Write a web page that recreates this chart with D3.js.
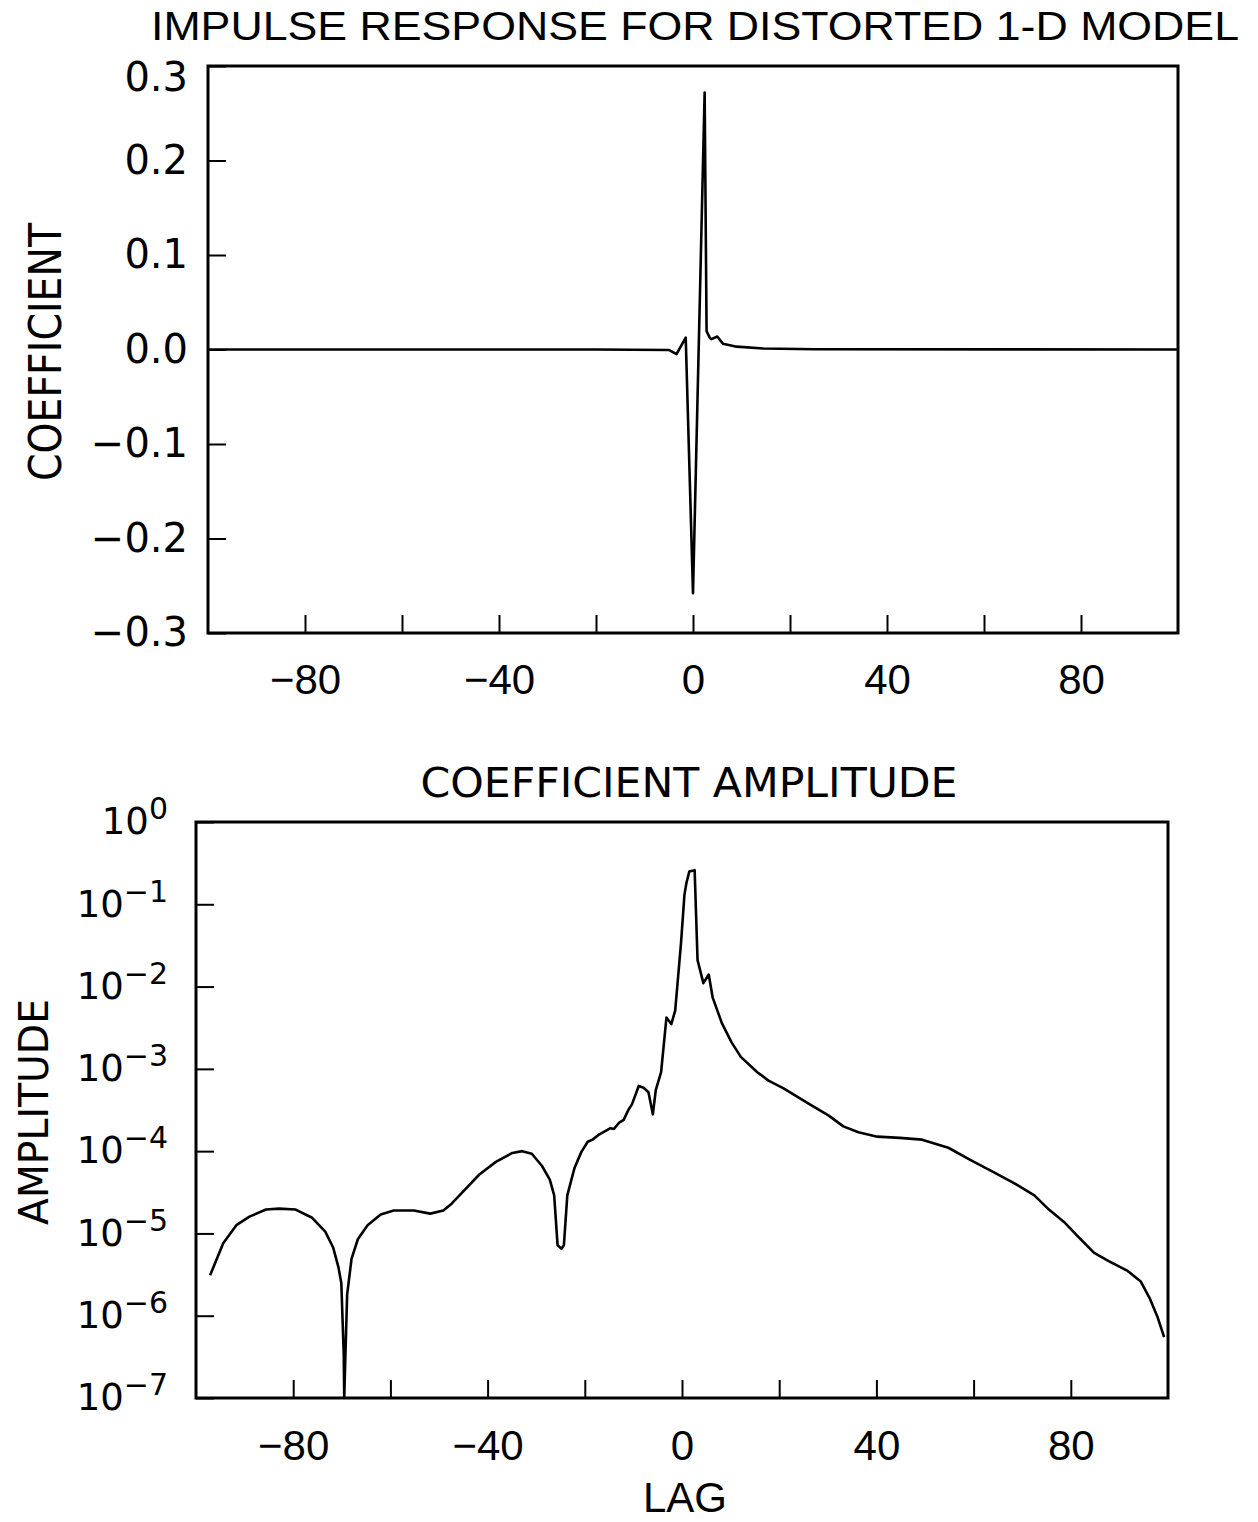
<!DOCTYPE html>
<html>
<head>
<meta charset="utf-8">
<script src="https://cdn.jsdelivr.net/npm/d3@7"></script>
<style>
  body { margin: 0; background: #fff; }
  svg { display: block; }
  .frame { fill: none; stroke: #000; stroke-width: 3; }
  .curve { fill: none; stroke: #000; stroke-width: 2.6; stroke-linejoin: round; }
  .ticks line { stroke: #000; stroke-width: 2; }
  .round { font-family: "DejaVu Sans", sans-serif; fill: #000; }
  .plain { font-family: "Liberation Sans", Arial, sans-serif; fill: #000; }
</style>
</head>
<body>
<div id="chart"></div>
<script>
// ---- data ----
// top panel: impulse response coefficients
const lagTop  = [-100, -20, -5, -3.4, -1.5, 0, 2.4, 2.8, 3.5, 3.8, 5.0, 6.2, 9, 14.5, 25, 100];
const coefTop = [0, 0, -0.0005, -0.005, 0.0125, -0.258, 0.272, 0.0195, 0.012, 0.011, 0.0137, 0.006, 0.003, 0.001, 0.0003, 0];

// bottom panel: coefficient amplitude (log scale)
const lagAmp = [
  -97.1, -94.4, -91.7, -89.0, -85.6, -82.9, -79.5, -76.1, -73.4, -71.8, -70.7, -70.1, -69.6, -69.5,
  -69.3, -68.9, -68.0, -66.7, -64.7, -62.0, -59.3, -55.2, -51.8, -49.1, -47.4, -45.1, -41.7, -38.3,
  -34.9, -32.9, -30.9, -28.8, -27.2, -26.3, -25.6, -24.8, -24.3, -23.6, -22.1, -20.7, -19.4, -18.4,
  -17.0, -14.7, -14.0, -13.0, -12.0, -11.0, -10.3, -8.9, -7.9, -6.9, -6.0, -5.4, -4.3, -3.2, -2.2,
  -1.4, -0.2, 0.5, 0.9, 1.5, 2.6, 3.2, 4.4, 5.5, 6.3, 8.2, 10.2, 12.1, 15.5, 17.8, 20.9, 26.3, 30.2,
  33.2, 36.3, 40.2, 44.8, 49.4, 54.8, 59.4, 64.0, 68.6, 72.5, 75.5, 78.6, 81.7, 84.8, 87.8, 91.7,
  94.4, 96.3, 97.8, 99.2
];
const amp = [
  3.1e-6, 7.6e-6, 1.26e-5, 1.6e-5, 1.95e-5, 2.0e-5, 1.95e-5, 1.55e-5, 1.05e-5, 6.8e-6, 3.9e-6, 2.5e-6, 3.4e-7, 1.0e-7,
  2.7e-7, 1.8e-6, 4.9e-6, 8.5e-6, 1.26e-5, 1.7e-5, 1.9e-5, 1.9e-5, 1.74e-5, 1.9e-5, 2.3e-5, 3.2e-5, 5.2e-5, 7.4e-5,
  9.5e-5, 1.0e-4, 9.3e-5, 6.6e-5, 4.5e-5, 2.9e-5, 7.2e-6, 6.5e-6, 7.2e-6, 2.9e-5, 6.3e-5, 9.8e-5, 1.3e-4, 1.38e-4,
  1.6e-4, 1.9e-4, 1.86e-4, 2.2e-4, 2.4e-4, 3.2e-4, 3.7e-4, 6.2e-4, 5.9e-4, 5.2e-4, 2.8e-4, 5.5e-4, 9.1e-4, 4.2e-3, 3.5e-3,
  5.1e-3, 3.4e-2, 0.13, 0.18, 0.25, 0.26, 0.021, 0.011, 0.014, 7.4e-3, 3.6e-3, 2.1e-3, 1.4e-3, 9.1e-4, 7.2e-4, 5.8e-4, 3.7e-4, 2.7e-4,
  2.0e-4, 1.7e-4, 1.5e-4, 1.45e-4, 1.38e-4, 1.1e-4, 7.8e-5, 5.6e-5, 4.0e-5, 2.9e-5, 1.95e-5, 1.38e-5, 8.9e-6, 5.8e-6, 4.6e-6, 3.5e-6,
  2.6e-6, 1.6e-6, 9.8e-7, 5.5e-7
];

// tick values / labels
const lagTicks   = [-80, -60, -40, -20, 0, 20, 40, 60, 80];
const lagLabels  = [-80, -40, 0, 40, 80];
const coefTicks  = [-0.3, -0.2, -0.1, 0.0, 0.1, 0.2, 0.3];
const ampExps    = [0, -1, -2, -3, -4, -5, -6, -7];

const W = 1258, H = 1522;
const svg = d3.select("#chart").append("svg").attr("width", W).attr("height", H);
svg.append("rect").attr("width", W).attr("height", H).attr("fill", "#fff");

// ---------- top panel ----------
const xTop = d3.scaleLinear().domain([-100, 100]).range([208, 1178]);
const yTop = d3.scaleLinear().domain([-0.3, 0.3]).range([633, 66]);

svg.append("text").attr("class", "plain")
    .attr("x", 695).attr("y", 40)
    .attr("text-anchor", "middle")
    .attr("font-size", 40)
    .attr("textLength", 1088).attr("lengthAdjust", "spacingAndGlyphs")
    .text("IMPULSE RESPONSE FOR DISTORTED 1-D MODEL");

// tick marks, pointing inward
svg.append("g").attr("class", "ticks")
    .attr("transform", "translate(0,633)")
    .call(d3.axisBottom(xTop).tickValues(lagTicks).tickSize(-18).tickFormat(""))
    .call(g => g.select(".domain").remove());

// x labels
svg.append("g")
    .attr("transform", "translate(0,633)")
    .call(d3.axisBottom(xTop).tickValues(lagLabels).tickSize(0).tickPadding(31))
    .call(g => g.select(".domain").remove())
    .call(g => g.selectAll("text").attr("class", "plain").attr("font-size", 42));

// y axis (top label sits a little below its tick, as in the original)
svg.append("g").attr("class", "ticks")
    .attr("transform", "translate(208,0)")
    .call(d3.axisLeft(yTop).tickValues(coefTicks).tickSize(-18).tickPadding(20).tickFormat(d3.format(".1f")))
    .call(g => g.select(".domain").remove())
    .call(g => g.selectAll("text").attr("class", "round").attr("font-size", 40)
        .filter(d => d === 0.3).attr("dy", "0.62em"));

svg.append("text").attr("class", "round")
    .attr("transform", "translate(61,352) rotate(-90)")
    .attr("text-anchor", "middle")
    .attr("font-size", 44)
    .attr("textLength", 258).attr("lengthAdjust", "spacingAndGlyphs")
    .text("COEFFICIENT");

svg.append("path")
    .datum(d3.zip(lagTop, coefTop))
    .attr("class", "curve")
    .attr("d", d3.line().x(d => xTop(d[0])).y(d => yTop(d[1])));

svg.append("rect").attr("class", "frame")
    .attr("x", 208).attr("y", 66).attr("width", 1178 - 208).attr("height", 633 - 66);

// ---------- bottom panel ----------
const xBot = d3.scaleLinear().domain([-100, 100]).range([196, 1168]);
const yBot = d3.scaleLog().domain([1e-7, 1]).range([1398, 822]);

svg.append("text").attr("class", "round")
    .attr("x", 689).attr("y", 797)
    .attr("text-anchor", "middle")
    .attr("font-size", 41)
    .attr("textLength", 537).attr("lengthAdjust", "spacingAndGlyphs")
    .text("COEFFICIENT AMPLITUDE");

svg.append("g").attr("class", "ticks")
    .attr("transform", "translate(0,1398)")
    .call(d3.axisBottom(xBot).tickValues(lagTicks).tickSize(-18).tickFormat(""))
    .call(g => g.select(".domain").remove());

svg.append("g")
    .attr("transform", "translate(0,1398)")
    .call(d3.axisBottom(xBot).tickValues(lagLabels).tickSize(0).tickPadding(32))
    .call(g => g.select(".domain").remove())
    .call(g => g.selectAll("text").attr("class", "plain").attr("font-size", 42));

svg.append("text").attr("class", "plain")
    .attr("x", 685).attr("y", 1512)
    .attr("text-anchor", "middle")
    .attr("font-size", 42)
    .text("LAG");

// log axis with 10^n labels
svg.append("g").attr("class", "ticks")
    .attr("transform", "translate(196,0)")
    .call(d3.axisLeft(yBot).tickValues(ampExps.map(e => Math.pow(10, e))).tickSize(-18).tickPadding(28).tickFormat(""))
    .call(g => g.select(".domain").remove())
    .call(g => g.selectAll(".tick text").each(function(d) {
        const e = Math.round(Math.log10(d));
        const t = d3.select(this).attr("class", "round").attr("font-size", 37);
        t.append("tspan").text("10");
        t.append("tspan").attr("font-size", 30).attr("dy", "-0.5em")
            .text(e === 0 ? "0" : "\u2212" + Math.abs(e));
    }));

svg.append("text").attr("class", "round")
    .attr("transform", "translate(48,1112) rotate(-90)")
    .attr("text-anchor", "middle")
    .attr("font-size", 40)
    .attr("textLength", 226).attr("lengthAdjust", "spacingAndGlyphs")
    .text("AMPLITUDE");

svg.append("path")
    .datum(d3.zip(lagAmp, amp))
    .attr("class", "curve")
    .attr("d", d3.line().x(d => xBot(d[0])).y(d => yBot(Math.max(d[1], 1e-7))));

svg.append("rect").attr("class", "frame")
    .attr("x", 196).attr("y", 822).attr("width", 1168 - 196).attr("height", 1398 - 822);
</script>
</body>
</html>
